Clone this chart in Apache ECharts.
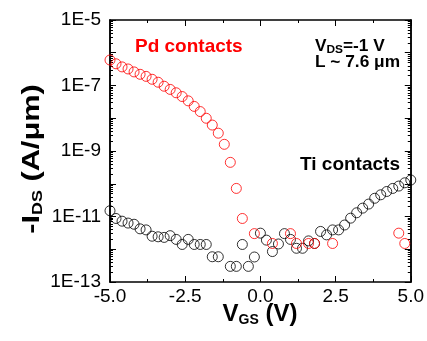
<!DOCTYPE html>
<html><head><meta charset="utf-8">
<script src="https://cdn.jsdelivr.net/npm/echarts@6/dist/echarts.min.js"></script>
<style>html,body{margin:0;padding:0;background:#fff}#c{width:427px;height:341px}</style>
</head><body><div id="c"></div>
<script>
// Gate voltage (V)
const vgs = [-5.0,-4.8,-4.6,-4.4,-4.2,-4.0,-3.8,-3.6,-3.4,-3.2,-3.0,-2.8,-2.6,-2.4,-2.2,-2.0,-1.8,-1.6,-1.4,-1.2,-1.0,-0.8,-0.6,-0.4,-0.2,0.0,0.2,0.4,0.6,0.8,1.0,1.2,1.4,1.6,1.8,2.0,2.2,2.4,2.6,2.8,3.0,3.2,3.4,3.6,3.8,4.0,4.2,4.4,4.6,4.8,5.0];
// -I_DS (A/um), Pd contacts (null = not shown)
const pdCurrent = [6.0e-7,4.6e-7,3.7e-7,3.2e-7,2.6e-7,2.2e-7,1.9e-7,1.55e-7,1.26e-7,9.5e-8,7.6e-8,6.0e-8,4.6e-8,3.4e-8,2.3e-8,1.6e-8,1.0e-8,6.2e-9,3.5e-9,1.6e-9,4.5e-10,7.2e-11,8.7e-12,null,3.0e-12,null,null,1.5e-12,null,null,3.0e-12,1.5e-12,null,1.5e-12,1.5e-12,null,null,1.5e-12,null,null,null,null,null,null,null,null,null,null,3.1e-12,1.5e-12,null];
// -I_DS (A/um), Ti contacts
const tiCurrent = [1.5e-11,8.7e-12,7.2e-12,6.3e-12,5.8e-12,4.2e-12,3.9e-12,2.5e-12,2.4e-12,2.3e-12,2.6e-12,2.0e-12,1.4e-12,2.0e-12,1.4e-12,1.4e-12,1.4e-12,5.9e-13,5.9e-13,null,3.0e-13,3.0e-13,1.4e-12,3.0e-13,5.8e-13,3.1e-12,1.9e-12,8.5e-13,1.45e-12,3.0e-12,2.0e-12,1.07e-12,1.07e-12,1.8e-12,1.5e-12,3.5e-12,2.75e-12,3.9e-12,3.9e-12,5.5e-12,8.9e-12,1.3e-11,1.8e-11,2.4e-11,3.6e-11,4.6e-11,5.8e-11,7.2e-11,8.5e-11,1.07e-10,1.3e-10];
// axis ticks
const xTicks = [-5, -2.5, 0, 2.5, 5];
const yLabelValues = [1e-13, 1e-11, 1e-9, 1e-7, 1e-5];
const yDecades = [1e-13,1e-12,1e-11,1e-10,1e-9,1e-8,1e-7,1e-6,1e-5];
const yMinor = [];
for (let n = -13; n < -5; n++) for (let k = 2; k <= 9; k++) yMinor.push(Number((k + 'e' + n)));

const FONT = '"Liberation Sans", Arial, sans-serif';
const toPairs = arr => vgs.map((x, i) => [x, arr[i]]).filter(d => d[1] != null);

const line = { show: true, onZero: false, lineStyle: { color: '#000', width: 1.5 } };
function yAx(pos, ticks, len, labels) {
  return {
    type: 'log', logBase: 10, min: 1e-13, max: 1e-5, position: pos,
    axisLine: line,
    axisTick: { show: true, inside: true, length: len, customValues: ticks, lineStyle: { color: '#000', width: 1 } },
    axisLabel: labels ? { show: true, customValues: yLabelValues, fontSize: 19, fontFamily: FONT, color: '#000', margin: 9,
      formatter: v => '1E' + Math.round(Math.log10(v)) } : { show: false },
    splitLine: { show: false }, minorTick: { show: false }
  };
}
function xAx(pos, labels) {
  return {
    type: 'value', min: -5, max: 5, interval: 2.5, position: pos,
    axisLine: line,
    axisTick: { show: true, inside: true, length: 6, lineStyle: { color: '#000', width: 1 } },
    minorTick: { show: true, splitNumber: 2, length: 3, lineStyle: { color: '#000', width: 1 } },
    axisLabel: labels ? { show: true, fontSize: 19, fontFamily: FONT, color: '#000', margin: 5,
      formatter: v => v.toFixed(1) } : { show: false },
    splitLine: { show: false }
  };
}

const chart = echarts.init(document.getElementById('c'), null, { renderer: 'canvas' });
chart.setOption({
  animation: false,
  backgroundColor: '#fff',
  grid: { left: 110, right: 15, top: 20, bottom: 59, containLabel: false },
  xAxis: [xAx('bottom', true), xAx('top', false)],
  yAxis: [yAx('left', yDecades, 6, true), yAx('left', yMinor, 3, false), yAx('right', yDecades, 6, false), yAx('right', yMinor, 3, false)],
  series: [
    { name: 'Ti contacts', type: 'scatter', symbol: 'circle', symbolSize: 10, xAxisIndex: 0, yAxisIndex: 0,
      itemStyle: { color: 'rgba(0,0,0,0)', borderColor: '#000', borderWidth: 1 }, data: toPairs(tiCurrent), clip: false },
    { name: 'Pd contacts', type: 'scatter', symbol: 'circle', symbolSize: 10, xAxisIndex: 0, yAxisIndex: 0,
      itemStyle: { color: 'rgba(0,0,0,0)', borderColor: '#ff0000', borderWidth: 1 }, data: toPairs(pdCurrent), clip: false }
  ],
  graphic: [
    { type: 'text', x: 135, y: 47, style: { text: 'Pd contacts', fill: '#ff0000', font: 'bold 19px ' + FONT, textVerticalAlign: 'middle' } },
    { type: 'text', x: 300, y: 165, style: { text: 'Ti contacts', fill: '#000', font: 'bold 19px ' + FONT, textVerticalAlign: 'middle' } },
    { type: 'text', x: 315, y: 47, scaleX: 1.08, style: { text: '{m|V}{s|DS}{m|=-1 V}', textVerticalAlign: 'middle',
      rich: { m: { font: 'bold 16px ' + FONT, fill: '#000', lineHeight: 17 }, s: { font: 'bold 11px ' + FONT, fill: '#000', padding: [5,0,0,0], lineHeight: 12 } } } },
    { type: 'text', x: 315, y: 63, scaleX: 1.08, style: { text: 'L ~ 7.6 μm', fill: '#000', font: 'bold 16px ' + FONT, textVerticalAlign: 'middle' } },
    { type: 'text', x: 260, y: 314, style: { text: '{m|V}{s|GS}{m| (V)}', textAlign: 'center', textVerticalAlign: 'middle',
      rich: { m: { font: 'bold 24px ' + FONT, fill: '#000', lineHeight: 26 }, s: { font: 'bold 14px ' + FONT, fill: '#000', padding: [12,0,0,0], lineHeight: 14 } } } },
    { type: 'text', x: 32, y: 159, rotation: Math.PI / 2, scaleX: 1.28, style: { text: '{m|-I}{s|DS}{m| (A/μm)}', textAlign: 'center', textVerticalAlign: 'middle',
      rich: { m: { font: 'bold 24px ' + FONT, fill: '#000', lineHeight: 26 }, s: { font: 'bold 14px ' + FONT, fill: '#000', padding: [12,0,0,0], lineHeight: 14 } } } }
  ]
});
</script></body></html>
